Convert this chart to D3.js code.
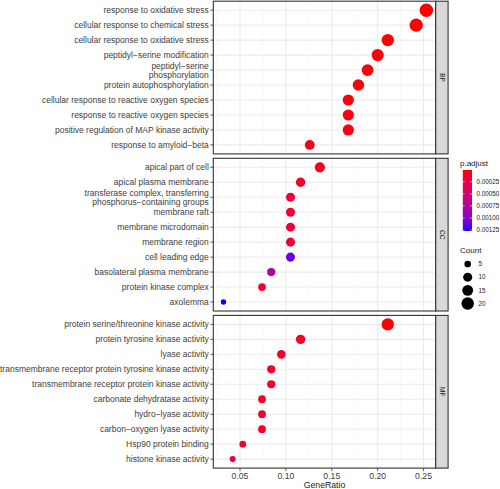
<!DOCTYPE html>
<html><head><meta charset="utf-8">
<script src="https://cdn.jsdelivr.net/npm/d3@7"></script>
<style>body{margin:0;background:#fff}text{font-family:"Liberation Sans",Arial,sans-serif}</style>
</head><body><svg id="c" width="500" height="489"></svg>
<script>
const facets = ["BP","CC","MF"];
const bpTerms = ["response to oxidative stress","cellular response to chemical stress","cellular response to oxidative stress","peptidyl−serine modification","peptidyl−serine\nphosphorylation","protein autophosphorylation","cellular response to reactive oxygen species","response to reactive oxygen species","positive regulation of MAP kinase activity","response to amyloid−beta"];
const bpRatio = [0.253,0.242,0.211,0.200,0.189,0.179,0.168,0.168,0.168,0.126];
const bpCount = [24,23,20,19,18,17,16,16,16,12];
const bpPadj = [0.000008,0.00001,0.00002,0.00002,0.00003,0.00003,0.00004,0.00004,0.00004,0.00006];
const ccTerms = ["apical part of cell","apical plasma membrane","transferase complex, transferring\nphosphorus−containing groups","membrane raft","membrane microdomain","membrane region","cell leading edge","basolateral plasma membrane","protein kinase complex","axolemma"];
const ccRatio = [0.137,0.116,0.105,0.105,0.105,0.105,0.105,0.084,0.074,0.032];
const ccCount = [13,11,10,10,10,10,10,8,7,3];
const ccPadj = [0.00008,0.00015,0.0002,0.0002,0.0002,0.0002,0.00112,0.00074,0.00014,0.00127];
const mfTerms = ["protein serine/threonine kinase activity","protein tyrosine kinase activity","lyase activity","transmembrane receptor protein tyrosine kinase activity","transmembrane receptor protein kinase activity","carbonate dehydratase activity","hydro−lyase activity","carbon−oxygen lyase activity","Hsp90 protein binding","histone kinase activity"];
const mfRatio = [0.211,0.116,0.095,0.084,0.084,0.074,0.074,0.074,0.053,0.042];
const mfCount = [20,11,9,8,8,7,7,7,5,4];
const mfPadj = [0.00002,0.00008,0.00015,0.00015,0.00015,0.0001,0.0001,0.0001,0.00016,0.0002];
const xTicks = [0.05,0.10,0.15,0.20,0.25];
const xMinor = [0.025,0.075,0.125,0.175,0.225];
const padjTicks = [0.00025,0.00050,0.00075,0.00100,0.00125];
const countTicks = [5,10,15,20];

const groups = [
  {terms:bpTerms, ratio:bpRatio, count:bpCount, padj:bpPadj},
  {terms:ccTerms, ratio:ccRatio, count:ccCount, padj:ccPadj},
  {terms:mfTerms, ratio:mfRatio, count:mfCount, padj:mfPadj}
];

const svg = d3.select("#c");
const pL = 213.3, pR = 435.7, stripW = 12.4;
const top0 = 1.2, step = 157.1, pH = 152.7;
const x = d3.scaleLinear().domain([0.0209,0.2632]).range([pL,pR]);
const pMin = 0.000008, pMax = 0.00127;
const col = d3.scaleLinear().domain([pMin,pMax]).range(["#ff0000","#0000ff"]).interpolate(d3.interpolateLab).clamp(true);
const rS = d3.scaleSqrt().domain([3,24]).range([2.7,6.75]);
const txtCol = "#3d3d3d";

groups.forEach((g,i)=>{
  const t = top0 + i*step;
  const y = d3.scalePoint().domain(g.terms).range([t,t+pH]).padding(0.6);
  const gp = svg.append("g");
  gp.append("rect").attr("x",pL).attr("y",t).attr("width",pR-pL).attr("height",pH).attr("fill","#fff");
  xMinor.forEach(v=>gp.append("line").attr("x1",x(v)).attr("x2",x(v)).attr("y1",t).attr("y2",t+pH).attr("stroke","#f4f4f4").attr("stroke-width",0.6));
  xTicks.forEach(v=>gp.append("line").attr("x1",x(v)).attr("x2",x(v)).attr("y1",t).attr("y2",t+pH).attr("stroke","#ebebeb").attr("stroke-width",1.1));
  g.terms.forEach(s=>gp.append("line").attr("x1",pL).attr("x2",pR).attr("y1",y(s)).attr("y2",y(s)).attr("stroke","#ebebeb").attr("stroke-width",1.1));
  g.terms.forEach((s,k)=>{
    gp.append("circle").attr("cx",x(g.ratio[k])).attr("cy",y(s)).attr("r",rS(g.count[k])).attr("fill",col(g.padj[k]));
  });
  gp.append("rect").attr("x",pL).attr("y",t).attr("width",pR-pL).attr("height",pH).attr("fill","none").attr("stroke","#333").attr("stroke-width",1.1);
  g.terms.forEach(s=>{
    gp.append("line").attr("x1",pL-3).attr("x2",pL).attr("y1",y(s)).attr("y2",y(s)).attr("stroke","#333").attr("stroke-width",0.8);
    const lines = s.split("\n");
    const tx = gp.append("text").attr("x",pL-4.5).attr("text-anchor","end").attr("font-size",8.5).attr("fill",txtCol);
    if(lines.length===1){
      tx.attr("y",y(s)+3).text(s);
    } else {
      lines.forEach((ln,j)=>tx.append("tspan").attr("x",pL-4.5).attr("y",y(s)-1.3+j*9.3).text(ln));
    }
  });
  gp.append("rect").attr("x",pR).attr("y",t).attr("width",stripW).attr("height",pH).attr("fill","#d9d9d9").attr("stroke","#333").attr("stroke-width",1.1);
  gp.append("text").attr("transform",`translate(${pR+stripW/2-2},${t+pH/2}) rotate(90)`).attr("text-anchor","middle").attr("font-size",6.5).attr("fill","#1a1a1a").text(facets[i]);
});

const yb = top0 + 2*step + pH;
xTicks.forEach(v=>{
  svg.append("line").attr("x1",x(v)).attr("x2",x(v)).attr("y1",yb).attr("y2",yb+3).attr("stroke","#333").attr("stroke-width",0.8);
  svg.append("text").attr("x",x(v)).attr("y",yb+11).attr("text-anchor","middle").attr("font-size",8.7).attr("fill",txtCol).text(d3.format(".2f")(v));
});
svg.append("text").attr("x",(pL+pR)/2).attr("y",488).attr("text-anchor","middle").attr("font-size",8.7).attr("fill","#1a1a1a").text("GeneRatio");

const lx = 460;
svg.append("text").attr("x",lx).attr("y",165.5).attr("font-size",8).attr("fill","#1a1a1a").text("p.adjust");
const cbT = 170, cbB = 231, cbL = 462.8, cbW = 9.2;
const defs = svg.append("defs");
const grad = defs.append("linearGradient").attr("id","gr").attr("x1",0).attr("x2",0).attr("y1",0).attr("y2",1);
d3.range(0,21).forEach(k=>{
  const v = pMin + (pMax-pMin)*k/20;
  grad.append("stop").attr("offset",k/20).attr("stop-color",col(v));
});
svg.append("rect").attr("x",cbL).attr("y",cbT).attr("width",cbW).attr("height",cbB-cbT).attr("fill","url(#gr)");
const cy = d3.scaleLinear().domain([pMin,pMax]).range([cbT,cbB]);
padjTicks.forEach(v=>{
  svg.append("line").attr("x1",cbL).attr("x2",cbL+1.8).attr("y1",cy(v)).attr("y2",cy(v)).attr("stroke","#fff").attr("stroke-width",0.6);
  svg.append("line").attr("x1",cbL+cbW-1.8).attr("x2",cbL+cbW).attr("y1",cy(v)).attr("y2",cy(v)).attr("stroke","#fff").attr("stroke-width",0.6);
  svg.append("text").attr("x",476.5).attr("y",cy(v)+2.2).attr("font-size",6.3).attr("fill","#1a1a1a").text(d3.format(".5f")(v));
});

svg.append("text").attr("x",lx).attr("y",253).attr("font-size",8).attr("fill","#1a1a1a").text("Count");
const sy = d3.scalePoint().domain(countTicks).range([264,303.5]);
countTicks.forEach(v=>{
  svg.append("circle").attr("cx",467.7).attr("cy",sy(v)).attr("r",rS(v)).attr("fill","#000");
  svg.append("text").attr("x",478.5).attr("y",sy(v)+2.2).attr("font-size",6.3).attr("fill","#1a1a1a").text(v);
});
</script></body></html>
